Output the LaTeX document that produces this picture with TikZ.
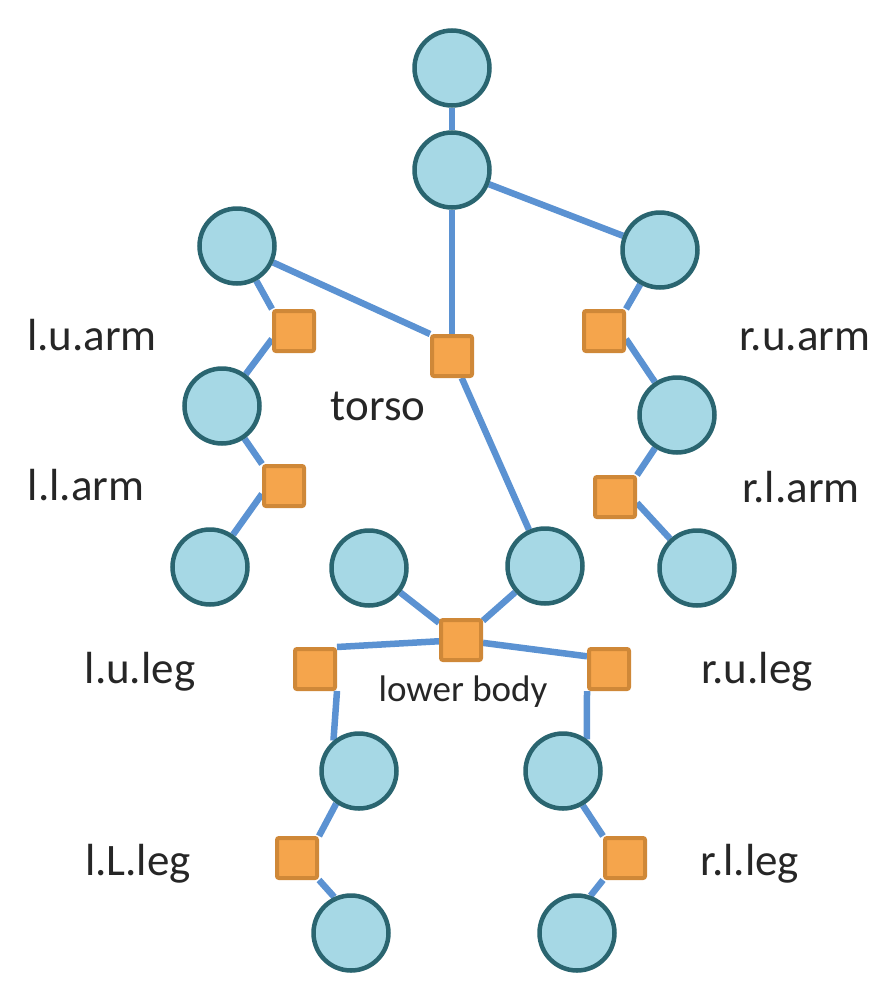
\documentclass[tikz,border=0pt]{standalone}
\usepackage{fontspec}
\setmainfont{Carlito}
\usepackage{tikz}
\usetikzlibrary{backgrounds}
\definecolor{jointfill}{HTML}{A6D8E5}
\definecolor{jointdraw}{HTML}{2A6570}
\definecolor{partfill}{HTML}{F5A54C}
\definecolor{partdraw}{HTML}{CF8838}
\definecolor{bonecol}{HTML}{5B92D2}
\tikzset{
	joint/.style={circle, fill=jointfill, draw=jointdraw, line width=4.5pt, minimum size=75pt, inner sep=0pt},
	part/.style={rectangle, fill=partfill, draw=partdraw, line width=4pt, minimum size=40pt, inner sep=0pt, rounded corners=2pt},
	bone/.style={draw=bonecol, line width=6.5pt},
	part label/.style={anchor=base, text=black!85, font=\fontsize{45}{54}\selectfont},
	small label/.style={anchor=base, text=black!85, font=\fontsize{37}{44}\selectfont},
}

\begin{document}
\begin{tikzpicture}[x=1pt,y=-1pt]
	\useasboundingbox (0,0) rectangle (878,988);
	% joints
	\node[joint] (head) at (452,68) {};
	\node[joint] (neck) at (452,170) {};
	\node[joint] (lsh) at (237,246) {};
	\node[joint] (rsh) at (660,250) {};
	\node[joint] (lel) at (222,406) {};
	\node[joint] (rel) at (677,415) {};
	\node[joint] (lha) at (210,567) {};
	\node[joint] (rha) at (697,568) {};
	\node[joint] (lhip) at (369,568) {};
	\node[joint] (rhip) at (545,566) {};
	\node[joint] (lkn) at (359,771) {};
	\node[joint] (rkn) at (563,771) {};
	\node[joint] (lft) at (351,933) {};
	\node[joint] (rft) at (577,933) {};
	% body parts
	\node[part] (torso) at (452,356) {};
	\node[part] (lua) at (294,331) {};
	\node[part] (rua) at (604,331) {};
	\node[part] (lla) at (284,486) {};
	\node[part] (rla) at (615,497) {};
	\node[part] (lbody) at (461,640) {};
	\node[part] (lul) at (315,669) {};
	\node[part] (rul) at (609,669) {};
	\node[part] (lll) at (297,858) {};
	\node[part] (rll) at (625,858) {};
	% bones
	\begin{scope}[on background layer]
		\draw[bone] (head) -- (neck);
		\draw[bone] (neck) -- (torso);
		\draw[bone] (neck) -- (rsh);
		\draw[bone] (lsh) -- (torso.north west);
		\draw[bone] (torso) -- (rhip);
		\draw[bone] (lsh) -- (lua.north west) (lua.200) -- (lel);
		\draw[bone] (lel) -- (lla.north west) (lla.200) -- (lha);
		\draw[bone] (rsh) -- (rua.north east) (rua.-20) -- (rel);
		\draw[bone] (rel) -- (rla.north east) (rla.-15) -- (rha);
		\draw[bone] (lhip) -- (lbody) -- (rhip);
		\draw[bone] (lbody) -- (lul.north east) (lbody) -- (rul.150);
		\draw[bone] (lul.south east) -- (lkn.130) (lkn.235) -- (lll.north east) (lll.south east) -- (lft.115);
		\draw[bone] (rul.south west) -- (rkn.53) (rkn.-60) -- (rll.north west) (rll.south west) -- (rft.70);
	\end{scope}
	% labels
	\node[part label] (tlua) at (92,350) {l.u.arm};
	\node[part label] (trua) at (805,350) {r.u.arm};
	\node[part label] (ttorso) at (378,420) {torso};
	\node[part label] (tlla) at (86,500) {l.l.arm};
	\node[part label] (trla) at (801,502) {r.l.arm};
	\node[part label] (tlul) at (140,683) {l.u.leg};
	\node[part label] (trul) at (757,683) {r.u.leg};
	\node[small label] (tlbody) at (463,701) {lower body};
	\node[part label] (tlll) at (138,875) {l.L.leg};
	\node[part label] (trll) at (750,875) {r.l.leg};
\end{tikzpicture}
\end{document}
